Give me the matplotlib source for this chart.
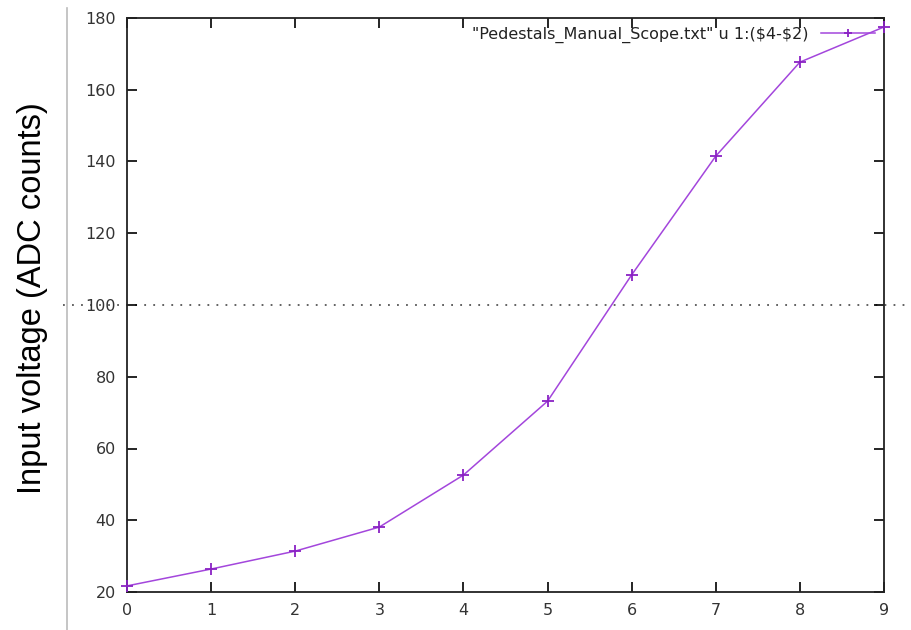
import matplotlib
matplotlib.use("Agg")
import matplotlib.pyplot as plt
from matplotlib.lines import Line2D

# Pedestal difference ($4-$2) per channel step
step = [0, 1, 2, 3, 4, 5, 6, 7, 8, 9]
adc_diff = [21.7, 26.4, 31.4, 38.1, 52.6, 73.2, 108.4, 141.5, 167.7, 177.5]
threshold = 100

xticks = list(range(0, 10))
yticks = list(range(20, 181, 20))

fig = plt.figure(figsize=(9.11, 6.3), dpi=100)
ax = fig.add_axes([127 / 911, 1 - 592 / 630, (884 - 127) / 911, (592 - 18) / 630])

ax.plot(step, adc_diff, color="#a346dc", lw=1.1, marker="+", ms=8, mew=1.3,
        mec="#8a22c4", label=r'"Pedestals_Manual_Scope.txt" u 1:(\$4-\$2)',
        clip_on=False, zorder=3)

# dotted reference line running past the frame on both sides
ax.axhline(threshold, xmin=-0.085, xmax=1.04, color="#555555", ls=(0, (1, 4)),
           lw=1.3, clip_on=False, zorder=1)

ax.set_xlim(0, 9)
ax.set_ylim(20, 180)
ax.set_xticks(xticks)
ax.set_yticks(yticks)
ax.tick_params(direction="in", length=7, width=1.2, top=True, right=True,
               labelsize=11.5, labelcolor="#333333", pad=8)
for s in ax.spines.values():
    s.set_linewidth(1.3)
    s.set_color("#222222")

leg = ax.legend(loc="upper right", frameon=False, fontsize=11.5, markerfirst=False,
                handlelength=3.4, borderaxespad=0.15, handletextpad=0.8,
                markerscale=0.8)
for t in leg.get_texts():
    t.set_color("#222222")

# thin gray divider left of the tick labels
fig.add_artist(Line2D([67 / 911, 67 / 911], [0, 1 - 8 / 630], color="#bbbbbb", lw=1.2))

fig.text(33 / 911, 1 - 298 / 630, "Input voltage (ADC counts)", rotation=90,
         ha="center", va="center", fontsize=23.5, family="Liberation Sans")

fig.savefig("out.png", dpi=100)
